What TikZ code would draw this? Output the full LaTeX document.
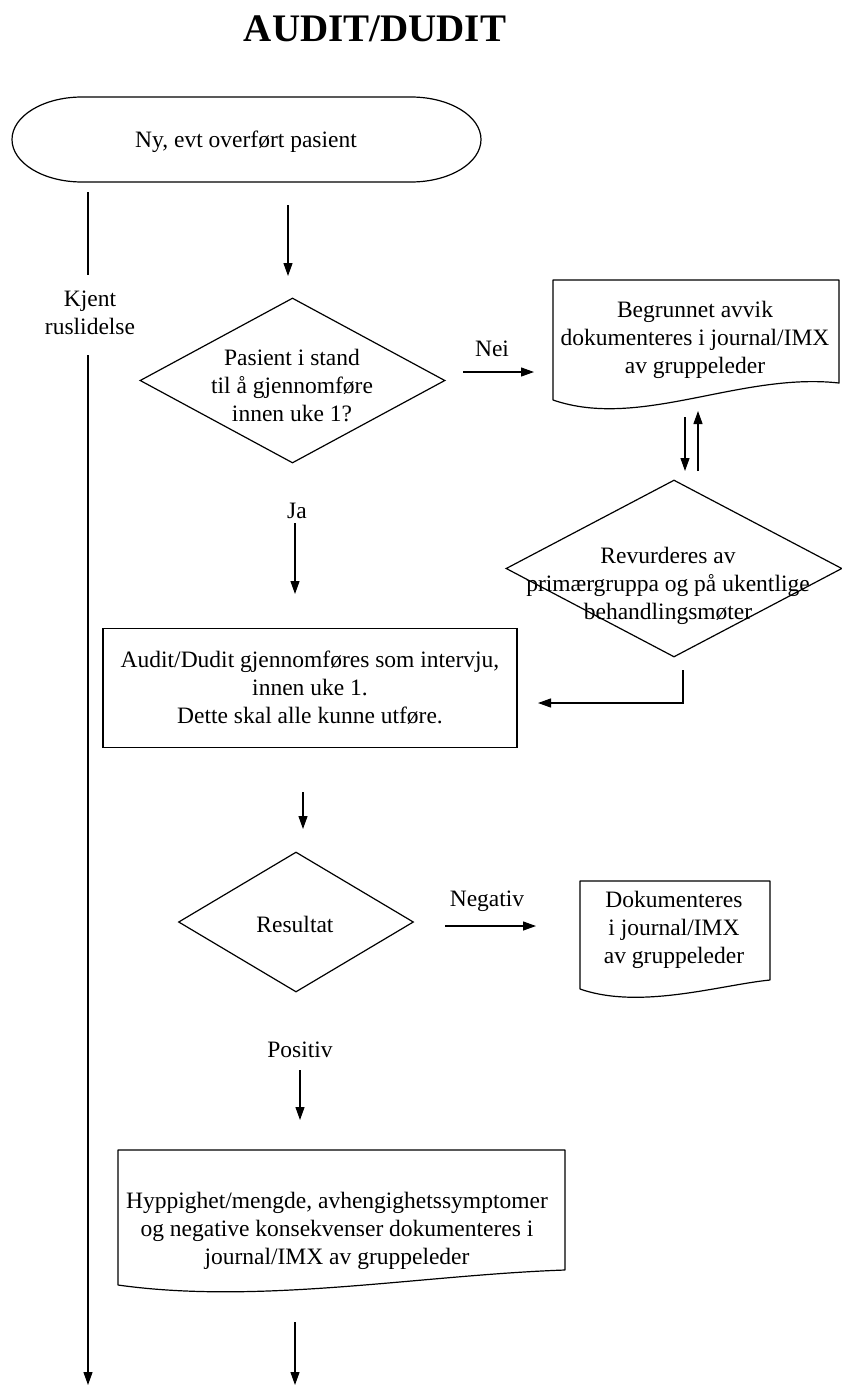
\documentclass[tikz,border=0pt]{standalone}
\usepackage{fontspec}
\setmainfont{Liberation Serif}
\usetikzlibrary{arrows.meta,shapes.geometric}
\begin{document}
\begin{tikzpicture}[x=1pt,y=-1pt,
  every node/.style={font=\fontsize{23.5}{28}\selectfont, inner sep=0pt, align=center, text=black},
  line/.style={line width=1.2pt, draw=black},
  arr/.style={line, -{Triangle[length=13pt,width=9pt]}},
  outline/.style={line width=1.2pt, draw=black, line join=round},
  dia/.style={diamond, draw=black, line width=1.2pt, inner sep=0pt}]
\useasboundingbox (0,0) rectangle (841,1387);

% title
\node[font=\bfseries\fontsize{39}{47}\selectfont] (title) at (375,29) {AUDIT/DUDIT};

% terminal
\draw[outline] (82,97) -- (411,97) arc[start angle=-90,end angle=90,x radius=70,y radius=42.5]
  -- (82,182) arc[start angle=90,end angle=270,x radius=70,y radius=42.5] -- cycle;
\node (start) at (246,142) {Ny, evt overført pasient};

% left branch
\coordinate (l1) at (88,192);
\coordinate (l2) at (88,275);
\coordinate (l3) at (88,355);
\coordinate (l4) at (88,1385);
\draw[line] (l1) -- (l2);
\node (kjent) at (90,313) {Kjent\\ruslidelse};
\draw[arr] (l3) -- (l4);

% arrow to first decision
\coordinate (a1) at (288,205);
\coordinate (a2) at (288,276);
\draw[arr] (a1) -- (a2);

% decision 1
\node[dia, minimum width=305, minimum height=165] (q1) at (292.5,380.5) {};
\node (q1t) at (292,386) {Pasient i stand\\til å gjennomføre\\innen uke 1?};

% Nei
\coordinate (n1) at (463,372);
\coordinate (n2) at (534,372);
\node (nei) at (492,349) {Nei};
\draw[arr] (n1) -- (n2);

% document 1
\draw[outline] (553,280) -- (839,280) -- (839,383)
  .. controls (740,372) and (640,430) .. (553,400) -- cycle;
\node (doc1) at (695,340) {Begrunnet avvik\\dokumenteres i journal/IMX\\av gruppeleder};

% double arrows
\coordinate (d1a) at (685,417);
\coordinate (d1b) at (685,471);
\coordinate (u1a) at (698,471);
\coordinate (u1b) at (698,411);
\draw[arr] (d1a) -- (d1b);
\draw[arr] (u1a) -- (u1b);

% decision 2
\node[dia, minimum width=336, minimum height=177] (q2) at (674,568.5) {};
\node (q2t) at (668,586) {Revurderes av\\primærgruppa og på ukentlige\\behandlingsmøter};

% feedback
\coordinate (f1) at (683,670);
\coordinate (f2) at (683,703);
\coordinate (f3) at (538,703);
\draw[arr] (f1) -- (f2) -- (f3);

% Ja
\node (ja) at (297,511) {Ja};
\coordinate (j1) at (295,523);
\coordinate (j2) at (295,594);
\draw[arr] (j1) -- (j2);

% process box
\node[draw=black, line width=1.2pt, minimum width=414, minimum height=119] (audit) at (310,688)
  {Audit/Dudit gjennomføres som intervju,\\innen uke 1.\\Dette skal alle kunne utføre.};

\coordinate (b1) at (303,792);
\coordinate (b2) at (303,829);
\draw[arr] (b1) -- (b2);

% decision 3
\node[dia, minimum width=235, minimum height=140] (q3) at (296,922) {};
\node (q3t) at (295,924) {Resultat};

% Negativ
\node (neg) at (487,901) {Negativ};
\coordinate (g1) at (445,926);
\coordinate (g2) at (536,926);
\draw[arr] (g1) -- (g2);

% document 2
\draw[outline] (580,881) -- (770,881) -- (770,980)
  .. controls (720,985) and (640,1010) .. (580,989) -- cycle;
\node (doc2) at (674,930) {Dokumenteres\\i journal/IMX\\av gruppeleder};

% Positiv
\node (pos) at (300,1050) {Positiv};
\coordinate (p1) at (300,1070);
\coordinate (p2) at (300,1120);
\draw[arr] (p1) -- (p2);

% document 3
\draw[outline] (118,1150) -- (565,1150) -- (565,1270)
  .. controls (420,1275) and (260,1305) .. (118,1285) -- cycle;
\node (doc3) at (337,1231) {Hyppighet/mengde, avhengighetssymptomer\\og negative konsekvenser dokumenteres i\\journal/IMX av gruppeleder};

\coordinate (e1) at (295,1322);
\coordinate (e2) at (295,1385);
\draw[arr] (e1) -- (e2);
\end{tikzpicture}
\end{document}
